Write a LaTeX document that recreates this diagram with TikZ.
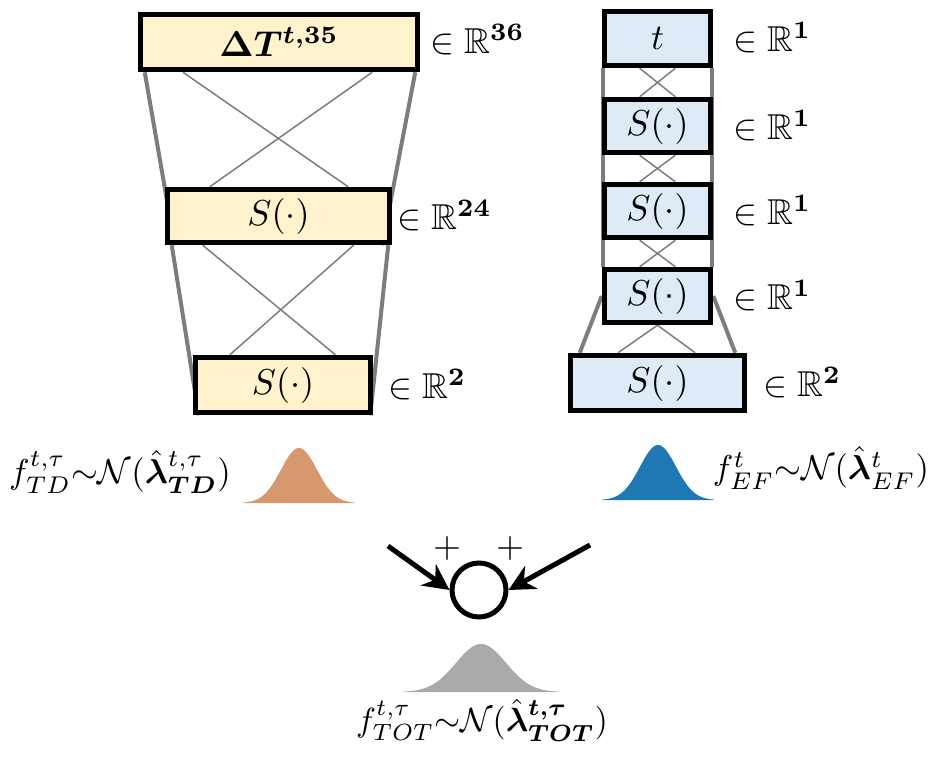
\documentclass[tikz,border=0pt]{standalone}
\usepackage{graphicx}
\usepackage{amsmath,amssymb,bm}
\usetikzlibrary{arrows.meta,calc,backgrounds}
\definecolor{boxY}{RGB}{255,242,204}
\definecolor{boxB}{RGB}{222,235,247}
\definecolor{lineG}{RGB}{125,125,125}
\definecolor{bellO}{RGB}{216,152,110}
\definecolor{bellB}{RGB}{31,119,180}
\definecolor{bellG}{RGB}{170,170,170}
\newcommand{\scm}[2][3.6]{\scalebox{#1}{$#2$}}
\begin{document}
\begin{tikzpicture}[x=1pt,y=-1pt,
  lay/.style={draw=black,line width=5.5pt,inner sep=0pt},
  ylay/.style={lay,fill=boxY},
  blay/.style={lay,fill=boxB},
  dimlab/.style={anchor=west,inner sep=0pt},
  thinc/.style={draw=lineG,line width=1.5pt},
  thickc/.style={draw=lineG,line width=4pt},
  formula/.style={inner sep=0pt},
  fatarrow/.style={draw=black,line width=5pt,-{Stealth[length=26pt,width=26pt]}},
]
\useasboundingbox (0,0) rectangle (932,760);

% left column
\node[ylay,minimum width=277pt,minimum height=55pt] (L1) at (279,42) {\scm{\bm{\Delta T^{t,35}}}};
\node[ylay,minimum width=222pt,minimum height=53pt] (L2) at (278.5,216) {\scm{S(\cdot)}};
\node[ylay,minimum width=175pt,minimum height=55pt] (L3) at (283,385) {\scm{S(\cdot)}};
\node[dimlab] (dL1) at (430,40) {\scm{\in\mathbb{R}^{\mathbf{36}}}};
\node[dimlab] (dL2) at (397,216) {\scm{\in\mathbb{R}^{\mathbf{24}}}};
\node[dimlab] (dL3) at (388,385) {\scm{\in\mathbb{R}^{\mathbf{2}}}};

% right column
\node[blay,minimum width=106pt,minimum height=54pt] (R0) at (657.5,38.5) {\scm{t}};
\node[blay,minimum width=106pt,minimum height=53pt] (R1) at (657.5,126) {\scm{S(\cdot)}};
\node[blay,minimum width=106pt,minimum height=53pt] (R2) at (657.5,211) {\scm{S(\cdot)}};
\node[blay,minimum width=106pt,minimum height=53pt] (R3) at (657.5,296) {\scm{S(\cdot)}};
\node[blay,minimum width=174pt,minimum height=55pt] (R4) at (657.5,383) {\scm{S(\cdot)}};
\node[dimlab] (dR0) at (733,38) {\scm{\in\mathbb{R}^{\mathbf{1}}}};
\node[dimlab] (dR1) at (733,126) {\scm{\in\mathbb{R}^{\mathbf{1}}}};
\node[dimlab] (dR2) at (733,211) {\scm{\in\mathbb{R}^{\mathbf{1}}}};
\node[dimlab] (dR3) at (733,296) {\scm{\in\mathbb{R}^{\mathbf{1}}}};
\node[dimlab] (dR4) at (763,383) {\scm{\in\mathbb{R}^{\mathbf{2}}}};

\begin{scope}[on background layer]
  % left column connections
  \draw[thickc] ($(L1.south west)+(7,0)$) -- ($(L2.south west)+(10,0)$);
  \draw[thickc] ($(L1.south east)+(-5,0)$) -- ($(L2.south east)+(-10,0)$);
  \draw[thinc] ($(L1.south west)!0.16!(L1.south east)$) -- ($(L2.north west)!0.806!(L2.north east)$);
  \draw[thinc] ($(L1.south west)!0.83!(L1.south east)$) -- ($(L2.north west)!0.198!(L2.north east)$);
  \draw[thickc] ($(L2.south west)+(7,0)$) -- ($(L3.south west)+(6,0)$);
  \draw[thickc] ($(L2.south east)+(-4,0)$) -- ($(L3.south east)+(-3,0)$);
  \draw[thinc] ($(L2.south west)!0.167!(L2.south east)$) -- ($(L3.north west)!0.79!(L3.north east)$);
  \draw[thinc] ($(L2.south west)!0.83!(L2.south east)$) -- ($(L3.north west)!0.206!(L3.north east)$);
  % right column connections
  \draw[thickc] ($(R0.south west)+(1,0)$) -- ($(R3.north west)+(1,0)$);
  \draw[thickc] ($(R0.south east)+(-1,0)$) -- ($(R3.north east)+(-1,0)$);
  \foreach \a/\b in {R0/R1,R1/R2,R2/R3}{
    \draw[thinc] ($(\a.south west)!0.34!(\a.south east)$) -- ($(\b.north west)!0.66!(\b.north east)$);
    \draw[thinc] ($(\a.south west)!0.66!(\a.south east)$) -- ($(\b.north west)!0.34!(\b.north east)$);
  }
  \draw[thickc] (R3.west) -- ($(R4.north west)+(12,0)$);
  \draw[thickc] (R3.east) -- ($(R4.north east)+(-12,0)$);
  \draw[thinc] (R3.south) -- ($(R4.north west)!0.28!(R4.north east)$);
  \draw[thinc] (R3.south) -- ($(R4.north west)!0.71!(R4.north east)$);
\end{scope}

% bell curves
\fill[bellO] (243,503) -- plot[domain=-56:56,samples=80] ({299+\x},{503-55*exp(-(\x*\x)/(2*18*18))}) -- (355,503) -- cycle;
\fill[bellB] (602,500) -- plot[domain=-56:56,samples=80] ({658+\x},{500-55*exp(-(\x*\x)/(2*18*18))}) -- (714,500) -- cycle;
\fill[bellG] (402,692) -- plot[domain=-79:79,samples=80] ({481+\x},{692-48*exp(-(\x*\x)/(2*25*25))}) -- (560,692) -- cycle;

% formulas
\node[formula] (fTD) at (120,472) {\scm[3.45]{f^{t,\tau}_{TD}{\sim}\mathcal{N}(\hat{\bm{\lambda}}^{t,\tau}_{\bm{TD}})}};
\node[formula] (fEF) at (821,468) {\scm[3.45]{f^{t}_{EF}{\sim}\mathcal{N}(\hat{\bm{\lambda}}^{t}_{EF})}};
\node[formula] (fTOT) at (482,720) {\scm[3.35]{f^{t,\tau}_{TOT}{\sim}\mathcal{N}(\hat{\bm{\lambda}}^{\bm{t,\tau}}_{\bm{TOT}})}};

% summation
\node[draw=black,line width=5pt,circle,minimum size=54pt,inner sep=0pt] (sum) at (479,590) {};
\coordinate (inL) at (388,546);
\coordinate (inR) at (590,545);
\draw[fatarrow] (inL) -- (sum.west);
\draw[fatarrow] (inR) -- (sum.east);
\node[formula] (plusL) at (447,548) {\scm{+}};
\node[formula] (plusR) at (510,548) {\scm{+}};
\end{tikzpicture}
\end{document}
